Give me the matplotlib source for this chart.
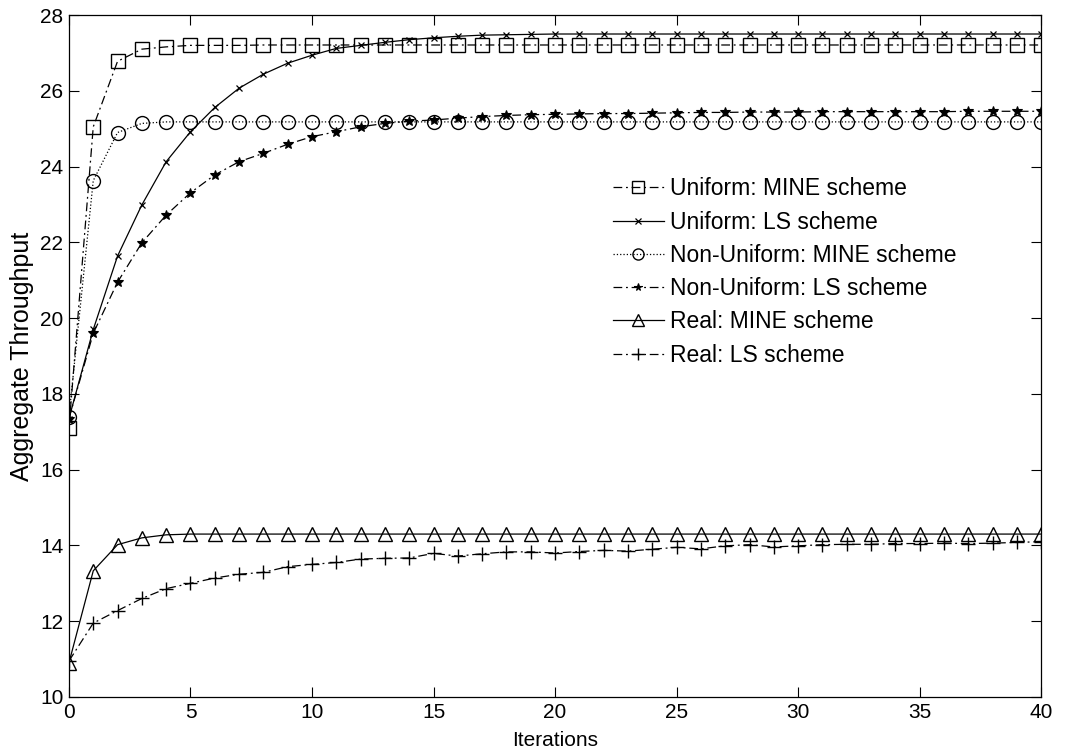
import matplotlib
matplotlib.use("Agg")
import matplotlib.pyplot as plt

plt.rcParams['font.family'] = ['Liberation Sans', 'DejaVu Sans']

iters = list(range(41))

uni_mine = [17.1, 25.05, 26.78, 27.1, 27.16, 27.2, 27.2, 27.2, 27.21, 27.21, 27.21] + [27.21] * 30
uni_ls = [17.35, 19.7, 21.64, 22.99, 24.13, 24.92, 25.56, 26.07, 26.44, 26.73, 26.94,
          27.12, 27.2, 27.28, 27.35, 27.4, 27.44, 27.47, 27.48, 27.49, 27.5] + [27.5] * 20
nonuni_mine = [17.4, 23.63, 24.9, 25.14, 25.18] + [25.18] * 36
nonuni_ls = [17.35, 19.6, 20.95, 21.99, 22.72, 23.31, 23.78, 24.13, 24.35, 24.59, 24.79,
             24.92, 25.05, 25.14, 25.2, 25.23, 25.28, 25.32, 25.35, 25.37, 25.38,
             25.39, 25.4, 25.4, 25.41, 25.42, 25.43, 25.43, 25.44, 25.44, 25.44,
             25.45, 25.45, 25.45, 25.45, 25.45, 25.45, 25.46, 25.46, 25.46, 25.46]
real_mine = [10.9, 13.33, 14.02, 14.2, 14.28] + [14.3] * 36
real_ls = [10.95, 11.95, 12.28, 12.6, 12.86, 13.0, 13.14, 13.24, 13.29, 13.44, 13.5,
           13.55, 13.64, 13.66, 13.67, 13.79, 13.72, 13.78, 13.83, 13.83, 13.8,
           13.84, 13.87, 13.85, 13.9, 13.95, 13.91, 13.99, 14.02, 13.96, 13.99,
           14.02, 14.03, 14.03, 14.05, 14.05, 14.06, 14.05, 14.06, 14.08, 14.1]

labels = ['Uniform: MINE scheme', 'Uniform: LS scheme', 'Non-Uniform: MINE scheme',
          'Non-Uniform: LS scheme', 'Real: MINE scheme', 'Real: LS scheme']

fig = plt.figure(figsize=(10.69, 7.53), dpi=100)
ax = fig.add_axes([0.0645, 0.0744, 0.9095, 0.9056])

dashdot = (0, (7, 3, 1.5, 3))
ax.plot(iters, uni_mine, color='black', lw=0.9, ls=dashdot, marker='s', ms=10,
        mfc='none', mew=1.0, label=labels[0])
ax.plot(iters, uni_ls, color='black', lw=0.9, ls='-', marker='x', ms=5,
        mew=0.9, label=labels[1])
ax.plot(iters, nonuni_mine, color='black', lw=0.9, ls=':', marker='o', ms=10,
        mfc='none', mew=1.0, label=labels[2])
ax.plot(iters, nonuni_ls, color='black', lw=0.9, ls=dashdot, marker='*', ms=7,
        mew=0.8, label=labels[3])
ax.plot(iters, real_mine, color='black', lw=0.9, ls='-', marker='^', ms=10,
        mfc='none', mew=1.0, label=labels[4])
ax.plot(iters, real_ls, color='black', lw=0.9, ls=dashdot, marker='+', ms=10,
        mew=1.0, label=labels[5])

ax.set_xlim(0, 40)
ax.set_ylim(10, 28)
ax.set_xticks(range(0, 41, 5))
ax.set_yticks(range(10, 29, 2))
ax.tick_params(direction='in', top=True, right=True, length=7, width=0.8,
               labelsize=15, pad=4)
for s in ax.spines.values():
    s.set_linewidth(0.9)

ax.set_xlabel('Iterations', fontsize=15, labelpad=7)
ax.set_ylabel('Aggregate Throughput', fontsize=18, labelpad=4)

ax.legend(loc='upper left', bbox_to_anchor=(0.548, 0.779), frameon=False,
          fontsize=16.5, handlelength=2.2, handletextpad=0.3, labelspacing=0.45,
          borderpad=0, markerscale=0.8)

fig.savefig('out.png', dpi=100)
